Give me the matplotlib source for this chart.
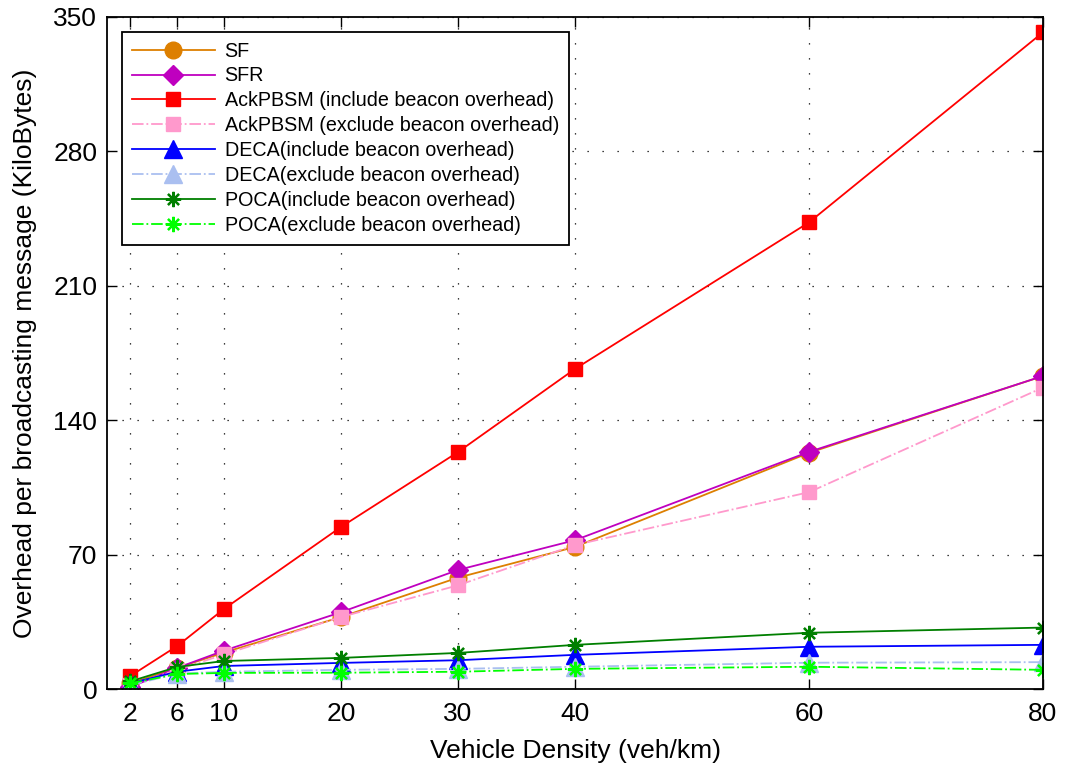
"""Overhead per broadcasting message vs vehicle density."""
import matplotlib

matplotlib.use("Agg")
import matplotlib.pyplot as plt  # noqa: E402

plt.rcParams["font.family"] = ["Liberation Sans", "DejaVu Sans"]

density = [2, 6, 10, 20, 30, 40, 60, 80]

sf = [3, 11, 19, 37.5, 58, 74, 123, 163]
sfr = [1, 11, 20, 40, 62, 77.5, 123.5, 163]
ack_inc = [6.8, 22.4, 41.7, 84.4, 123.4, 166.7, 243, 342]
ack_exc = [2, 10, 18, 37.5, 54, 75, 102.5, 157]
deca_inc = [3, 9, 12, 13.6, 15, 17.8, 22, 23]
deca_exc = [2, 8, 9, 10, 10.5, 11.6, 13.7, 14]
poca_inc = [4, 11.5, 14.6, 16.2, 18.8, 23, 29.3, 32]
poca_exc = [3, 7.8, 8.4, 8.5, 9, 10.5, 11.6, 10]

labels = [
    "SF",
    "SFR",
    "AckPBSM (include beacon overhead)",
    "AckPBSM (exclude beacon overhead)",
    "DECA(include beacon overhead)",
    "DECA(exclude beacon overhead)",
    "POCA(include beacon overhead)",
    "POCA(exclude beacon overhead)",
]

AST = (8, 2, 0)
styles = [
    (sf, "#dd7f00", "-", "o", 12),
    (sfr, "#bf00bf", "-", "D", 10),
    (ack_inc, "#ff0000", "-", "s", 10.5),
    (ack_exc, "#ff99cc", "-.", "s", 10.5),
    (deca_inc, "#0000ff", "-", "^", 12.5),
    (deca_exc, "#aabff0", "-.", "^", 12.5),
    (poca_inc, "#007f00", "-", AST, 11),
    (poca_exc, "#00ff00", "-.", AST, 11),
]

fig = plt.figure(figsize=(10.67, 7.69), dpi=100)
ax = fig.add_axes([0.1003, 0.104, 0.8772, 0.874])

for (vals, color, ls, mk, ms), label in zip(styles, labels):
    filled = mk != AST
    ax.plot(density, vals, color=color, linestyle=ls, linewidth=1.3,
            marker=mk, markersize=ms,
            markerfacecolor=color if filled else "none",
            markeredgecolor=color, markeredgewidth=1.0 if filled else 1.6,
            label=label)

ax.set_xlim(0, 80)
ax.set_ylim(0, 350)
ax.set_xticks(density)
ax.set_yticks([0, 70, 140, 210, 280, 350])
ax.tick_params(direction="in", top=True, right=True, labelsize=19,
               length=7, width=1)
ax.tick_params(axis="x", pad=9)
ax.tick_params(axis="y", pad=7)
ax.grid(True, color="black", linestyle=(0, (1, 11)), linewidth=0.9)
for sp in ax.spines.values():
    sp.set_linewidth(1.3)

ax.set_xlabel("Vehicle Density (veh/km)", fontsize=19, labelpad=10)
ax.set_ylabel("Overhead per broadcasting message (KiloBytes)", fontsize=19,
              labelpad=12)

leg = ax.legend(loc="upper left", bbox_to_anchor=(0.016, 0.978), fontsize=14.2,
                fancybox=False, framealpha=1, edgecolor="black",
                borderpad=0.5, labelspacing=0.3, handlelength=4.2,
                handletextpad=0.5, borderaxespad=0)
leg.get_frame().set_linewidth(1.3)

fig.savefig("out.png", dpi=100)
